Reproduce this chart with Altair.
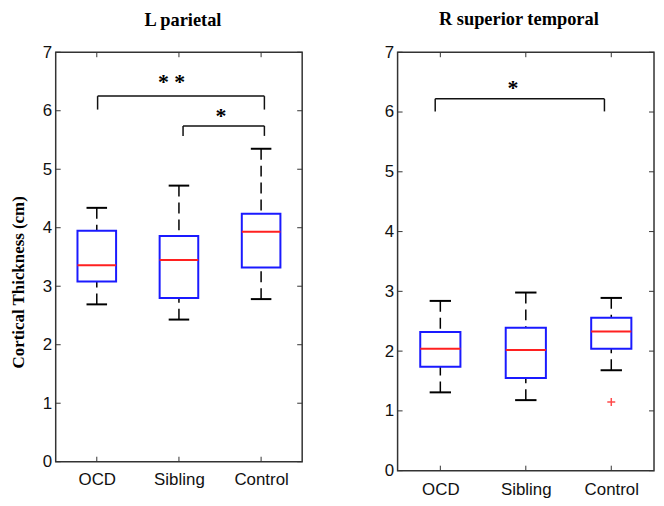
import json
import altair as alt
import pandas as pd

# ---------------- data ----------------
categories = ["OCD", "Sibling", "Control"]
y_ticks = [0, 1, 2, 3, 4, 5, 6, 7]

# L parietal boxplot statistics
lp_low = [2.69, 2.43, 2.78]
lp_q1 = [3.08, 2.80, 3.32]
lp_median = [3.36, 3.45, 3.93]
lp_q3 = [3.95, 3.86, 4.24]
lp_high = [4.34, 4.72, 5.35]

# R superior temporal boxplot statistics
st_low = [1.31, 1.18, 1.68]
st_q1 = [1.74, 1.55, 2.04]
st_median = [2.04, 2.02, 2.33]
st_q3 = [2.32, 2.39, 2.56]
st_high = [2.84, 2.98, 2.89]
st_outlier_group = ["Control"]
st_outlier_value = [1.15]

# significance brackets
lp_br_from = [1.01, 2.05]
lp_br_to = [3.04, 3.04]
lp_br_top = [6.25, 5.74]
lp_br_leg = [6.02, 5.57]
lp_br_label = ["* *", "*"]
lp_lab_x = [1.91, 2.51]
lp_lab_y = [6.56, 5.97]

st_br_from = [0.94]
st_br_to = [2.92]
st_br_top = [6.22]
st_br_leg = [6.01]
st_br_label = ["*"]
st_lab_x = [1.85]
st_lab_y = [6.46]

SANS = "Liberation Sans"
SERIF = "Liberation Serif"


def panel(low, q1, med, q3, high, br_from, br_to, br_top, br_leg, br_label,
          lab_x, lab_y, out_group, out_value, width, height, title,
          title_offset, title_dx, y_title, label_pad):
    pos = list(range(1, len(categories) + 1))
    boxes = pd.DataFrame({"cat": categories, "pos": pos, "low": low, "q1": q1,
                          "med": med, "q3": q3, "high": high})
    xscale = alt.Scale(domain=[0.5, len(categories) + 0.5], nice=False, zero=False)
    yscale = alt.Scale(domain=[0, 7], nice=False, zero=True)
    label_expr = json.dumps(categories) + "[datum.value - 1]"
    xaxis = alt.Axis(values=pos, labelExpr=label_expr, title="", domain=False,
                     ticks=False, grid=False, labelFont=SANS, labelFontSize=17,
                     labelColor="#111", labelPadding=label_pad, labelAngle=0)
    yargs = dict(values=y_ticks, domain=False, ticks=False, grid=False,
                 labelFont=SANS, labelFontSize=17, labelColor="#111",
                 labelPadding=4, title=y_title)
    if y_title:
        yargs.update(titleFont=SERIF, titleFontWeight="bold", titleFontSize=17,
                     titleColor="#000", titleX=-37.5, titleY=231, titleAngle=-90,
                     titleAlign="center", titleBaseline="middle")
    yaxis = alt.Axis(**yargs)

    def X(f):
        return alt.X(f, type="quantitative", scale=xscale, axis=xaxis)

    def Y(f):
        return alt.Y(f, type="quantitative", scale=yscale, axis=yaxis)

    base = alt.Chart(boxes).transform_calculate(
        lo="datum.pos - 0.235", hi="datum.pos + 0.235",
        clo="datum.pos - 0.125", chi="datum.pos + 0.125")

    whisk_up = base.mark_rule(color="#000", strokeWidth=1.5, strokeDash=[11, 6]).encode(
        x=X("pos"), y=Y("high"), y2="q3")
    whisk_dn = base.mark_rule(color="#000", strokeWidth=1.5, strokeDash=[11, 6]).encode(
        x=X("pos"), y=Y("low"), y2="q1")
    cap_up = base.mark_rule(color="#000", strokeWidth=2).encode(
        x=X("clo"), x2="chi", y=Y("high"))
    cap_dn = base.mark_rule(color="#000", strokeWidth=2).encode(
        x=X("clo"), x2="chi", y=Y("low"))
    box = base.mark_rect(fill="white", fillOpacity=0, stroke="#1a1aff",
                         strokeWidth=2).encode(x=X("lo"), x2="hi", y=Y("q1"), y2="q3")
    median = base.mark_rule(color="#ff2020", strokeWidth=2).encode(
        x=X("lo"), x2="hi", y=Y("med"))

    brackets = pd.DataFrame({"a": br_from, "b": br_to, "top": br_top, "leg": br_leg})
    legs_rows = []
    for a, b, t, l in zip(br_from, br_to, br_top, br_leg):
        legs_rows.append({"x": a, "top": t, "leg": l})
        legs_rows.append({"x": b, "top": t, "leg": l})
    legs = pd.DataFrame(legs_rows)
    stars = pd.DataFrame({"label": br_label, "x": lab_x, "y": lab_y})

    br_h = alt.Chart(brackets).mark_rule(color="#111", strokeWidth=1.5).encode(
        x=X("a"), x2="b", y=Y("top"))
    br_v = alt.Chart(legs).mark_rule(color="#111", strokeWidth=1.5).encode(
        x=X("x"), y=Y("leg"), y2="top")
    star_txt = alt.Chart(stars).mark_text(font=SERIF, fontWeight="bold", fontSize=22,
                                          baseline="middle", dy=4, color="#000").encode(
        x=X("x"), y=Y("y"), text="label:N")

    yt = pd.DataFrame({"t": y_ticks})
    xt = pd.DataFrame({"p": pos})
    tick_l = alt.Chart(yt).mark_rule(color="#333", strokeWidth=1).encode(
        x=alt.value(0), x2=alt.value(5), y=Y("t"))
    tick_r = alt.Chart(yt).mark_rule(color="#333", strokeWidth=1).encode(
        x=alt.value(width - 5), x2=alt.value(width), y=Y("t"))
    tick_t = alt.Chart(xt).mark_rule(color="#333", strokeWidth=1).encode(
        x=X("p"), y=alt.value(0), y2=alt.value(5))
    tick_b = alt.Chart(xt).mark_rule(color="#333", strokeWidth=1).encode(
        x=X("p"), y=alt.value(height - 5), y2=alt.value(height))

    layers = [whisk_up, whisk_dn, cap_up, cap_dn, box, median, br_h, br_v,
              star_txt, tick_l, tick_r, tick_t, tick_b]
    if out_group:
        outl = pd.DataFrame({"cat": out_group, "v": out_value})
        outl["pos"] = [categories.index(c) + 1 for c in out_group]
        layers.append(alt.Chart(outl).mark_point(
            shape="M-1,0L1,0M0,-1L0,1", size=64, filled=False, color="#ff0000",
            strokeWidth=1.5).encode(x=X("pos"), y=Y("v")))

    return alt.layer(*layers).properties(
        width=width, height=height,
        title=alt.TitleParams(text=title, font=SERIF, fontWeight="bold", fontSize=18.5,
                              color="#000", offset=title_offset, dx=title_dx,
                              baseline="alphabetic", anchor="middle"))


left = panel(lp_low, lp_q1, lp_median, lp_q3, lp_high, lp_br_from, lp_br_to,
             lp_br_top, lp_br_leg, lp_br_label, lp_lab_x, lp_lab_y, [], [],
             248, 412, "L parietal", -1, 4, "Cortical Thickness (cm)", 10)
right = panel(st_low, st_q1, st_median, st_q3, st_high, st_br_from, st_br_to,
              st_br_top, st_br_leg, st_br_label, st_lab_x, st_lab_y,
              st_outlier_group, st_outlier_value,
              258, 421, "R superior temporal", -0.5, -7, "", 11)

chart = alt.hconcat(left, right, spacing=96, bounds="flush").properties(
    padding={"left": 0, "top": 0, "right": 0, "bottom": 0}, background="white"
).configure_view(stroke="#333", strokeWidth=1.5)

chart.save("out.html", embed_options={"renderer": "svg", "actions": False})
